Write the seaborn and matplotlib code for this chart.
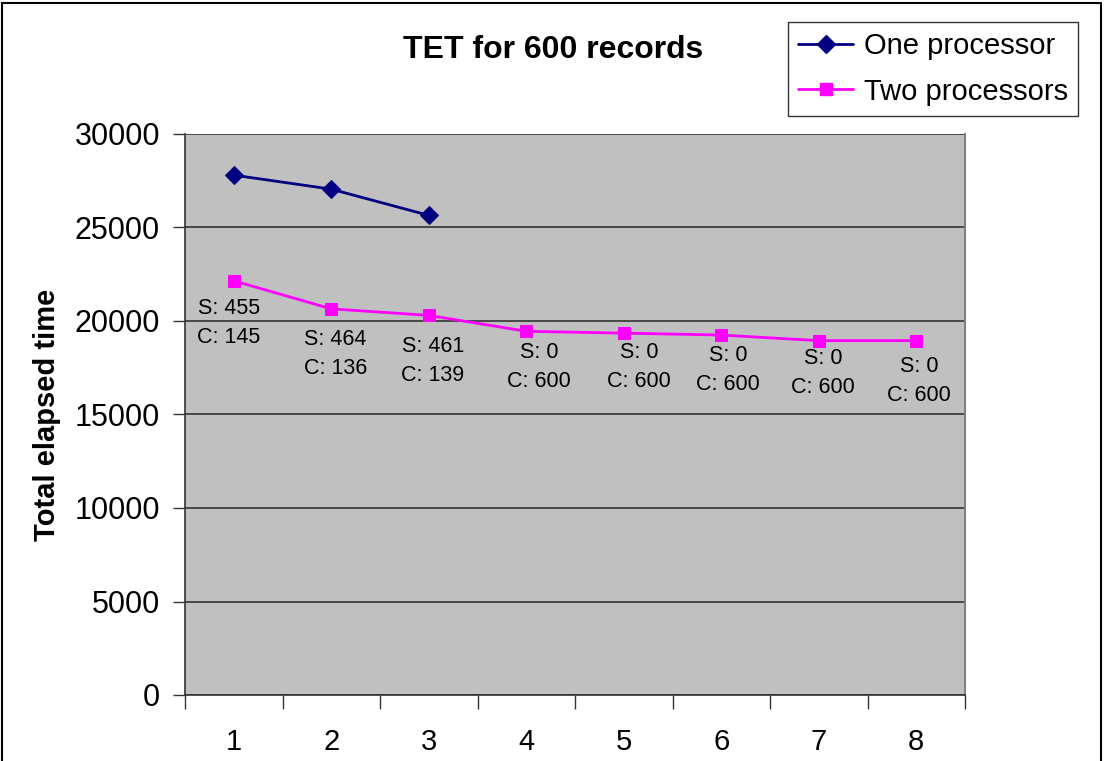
import numpy as np
import pandas as pd
import matplotlib
matplotlib.use("Agg")
import matplotlib.pyplot as plt
import seaborn as sns
from matplotlib.patches import Rectangle
from matplotlib.lines import Line2D

# data
runs = [1, 2, 3, 4, 5, 6, 7, 8]
one_proc = [27800, 27050, 25650, np.nan, np.nan, np.nan, np.nan, np.nan]
two_proc = [22150, 20650, 20300, 19450, 19350, 19250, 18950, 18950]
server_recs = [455, 464, 461, 0, 0, 0, 0, 0]
client_recs = [145, 136, 139, 600, 600, 600, 600, 600]

# where excel put each data label (pixels from the point)
label_nudge = [(-5, -42), (4, -45), (4, -46), (13, -36), (15, -34), (7, -35), (4, -32), (3, -40)]

sns.set_theme(style="white")
plt.rcParams['font.family'] = ['Liberation Sans', 'DejaVu Sans']
plt.rcParams['text.color'] = 'black'
plt.rcParams['axes.labelcolor'] = 'black'
plt.rcParams['xtick.color'] = 'black'
plt.rcParams['ytick.color'] = 'black'

df = pd.DataFrame({'run': runs, 'One processor': one_proc, 'Two processors': two_proc})

fig = plt.figure(figsize=(11.04, 7.61), dpi=100)
ax = fig.add_axes([185/1104, 1-695/761, 780/1104, 561/761])
ax.set_facecolor('#C0C0C0')

sns.lineplot(data=df, x='run', y='One processor', ax=ax, color='#000080', lw=2,
             marker='D', markersize=9, markeredgecolor='#000080')
sns.lineplot(data=df, x='run', y='Two processors', ax=ax, color='#FF00FF', lw=2,
             marker='s', markersize=9, markeredgecolor='#FF00FF')

for x, y, s, c, (dx, dy) in zip(runs, two_proc, server_recs, client_recs, label_nudge):
    ax.annotate('S: %d\nC: %d' % (s, c), (x, y), xytext=(dx, dy), textcoords='offset pixels',
                ha='center', va='center', fontsize=15.5, linespacing=1.5, color='black')

ax.set_xlim(0.5, 8.5)
ax.set_ylim(0, 30000)
ax.set_yticks(range(0, 30001, 5000))
ax.yaxis.grid(True, color='#333333', lw=1.2)
ax.set_axisbelow(True)

ax.set_xticks(runs)
ax.set_xticks(np.arange(0.5, 9, 1), minor=True)
ax.tick_params(axis='x', which='major', length=0, pad=24, labelsize=21)
ax.tick_params(axis='x', which='minor', length=10, width=1, color='#333333', direction='out', bottom=True)
ax.tick_params(axis='y', length=9, width=1, color='#333333', direction='out', left=True, pad=9, labelsize=22)

for side in ['left', 'bottom']:
    ax.spines[side].set_color('#333333')
    ax.spines[side].set_linewidth(1.2)
ax.spines['top'].set_visible(False)
ax.spines['right'].set_color('#808080')
ax.spines['right'].set_linewidth(1.5)

ax.set_xlabel('')
ax.set_ylabel('Total elapsed time', fontsize=21, fontweight='bold', labelpad=10)

fig.text(553/1104, 1-50/761, 'TET for 600 records', ha='center', va='center',
         fontsize=23, fontweight='bold')

handles = [Line2D([], [], color='#000080', lw=2, marker='D', markersize=9),
           Line2D([], [], color='#FF00FF', lw=2, marker='s', markersize=9)]
leg = fig.legend(handles, ['One processor', 'Two processors'], loc='upper right',
                 bbox_to_anchor=(1078/1104, 1-22/761), fontsize=21, frameon=True, fancybox=False,
                 edgecolor='black', handlelength=1.9, handletextpad=0.35, borderpad=0.35,
                 labelspacing=0.6, borderaxespad=0)
leg.get_frame().set_linewidth(1)

# outer chart border
fig.patches.append(Rectangle((2/1104, -0.01), 1099/1104, 1.006, transform=fig.transFigure,
                             fill=False, edgecolor='black', lw=1.5))

plt.savefig('out.png', dpi=100)
